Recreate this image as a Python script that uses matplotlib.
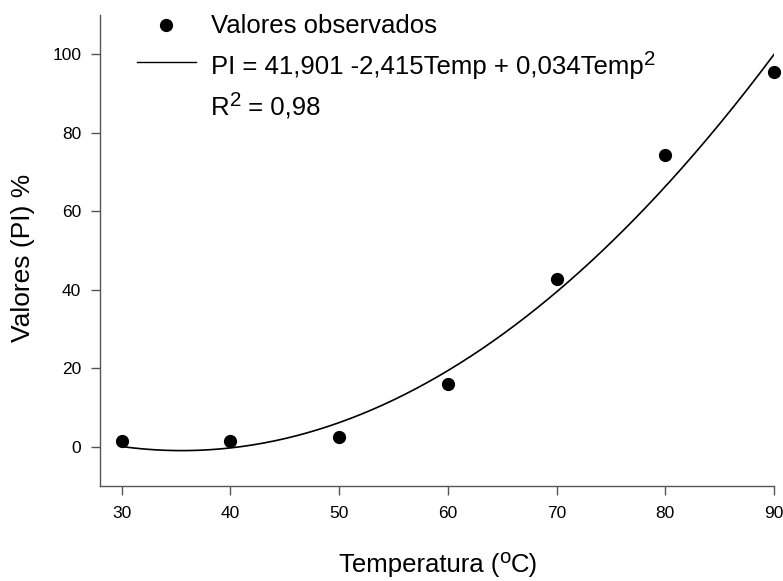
import numpy as np
import matplotlib
matplotlib.use("Agg")
import matplotlib.pyplot as plt
from matplotlib.lines import Line2D
from matplotlib.transforms import IdentityTransform

plt.rcParams['font.family'] = ['Liberation Sans', 'DejaVu Sans']

# Data
temperatura = [30, 40, 50, 60, 70, 80, 90]
pi_observado = [1.35, 1.35, 2.4, 15.9, 42.7, 74.3, 95.5]
coef = [41.901, -2.415, 0.034]  # PI = a + b*T + c*T^2
x_ticks = [30, 40, 50, 60, 70, 80, 90]
y_ticks = [0, 20, 40, 60, 80, 100]

W, H = 783, 581
fig = plt.figure(figsize=(W/100, H/100), dpi=100)
ax = fig.add_axes([100/W, 1-486/H, 674/W, 471/H])

t = np.linspace(min(temperatura), max(temperatura), 300)
fit = coef[0] + coef[1]*t + coef[2]*t**2
ax.plot(t, fit, color='black', lw=1.2)
ax.plot(temperatura, pi_observado, 'o', color='black', ms=8.5, ls='none', clip_on=False)

ax.set_xlim(28, 90)
ax.set_ylim(-10, 110)
ax.set_xticks(x_ticks)
ax.set_yticks(y_ticks)
for s in ['top', 'right']:
    ax.spines[s].set_visible(False)
for s in ['left', 'bottom']:
    ax.spines[s].set_color('#555555')
    ax.spines[s].set_linewidth(1.0)
ax.tick_params(axis='both', direction='out', length=6.5, width=1, color='#555555', labelsize=12.5)
ax.tick_params(axis='x', pad=8)
ax.tick_params(axis='y', pad=7)

renderer = fig.canvas.get_renderer()
ident = IdentityTransform()


def rich_text(x_px, base_px, pieces, size, ha='left', sup_scale=0.8, sup_raise=0.35):
    """Draw text pieces (str, is_superscript) left to right; y given as baseline from top."""
    y = H - base_px
    widths = []
    for s, sup in pieces:
        fs = size * sup_scale if sup else size
        tmp = fig.text(0, 0, s, fontsize=fs, transform=ident)
        widths.append(tmp.get_window_extent(renderer).width)
        tmp.remove()
    total = sum(widths)
    x = x_px - total / 2 if ha == 'center' else x_px
    for (s, sup), w in zip(pieces, widths):
        fs = size * sup_scale if sup else size
        dy = size * 100 / 72 * sup_raise if sup else 0
        fig.text(x, y + dy, s, fontsize=fs, transform=ident, ha='left', va='baseline')
        x += w


# Axis labels
rich_text(438, 572, [('Temperatura (', False), ('o', True), ('C)', False)], 18.5, ha='center')
fig.text(23, H - 258, 'Valores (PI) %', fontsize=19, rotation=90, ha='center', va='center',
         transform=ident)

# Legend (drawn manually)
fs_leg = 18.5
fig.add_artist(Line2D([166], [H - 25], marker='o', color='black', ms=8.5, ls='none',
                      transform=ident))
fig.add_artist(Line2D([137, 196], [H - 61.7, H - 61.7], color='black', lw=1.0,
                      transform=ident))
rich_text(211, 33, [('Valores observados', False)], fs_leg)
rich_text(211, 74, [('PI = 41,901 -2,415Temp + 0,034Temp', False), ('2', True)], fs_leg)
rich_text(211, 115, [('R', False), ('2', True), (' = 0,98', False)], fs_leg)

fig.savefig('out.png', dpi=100)
